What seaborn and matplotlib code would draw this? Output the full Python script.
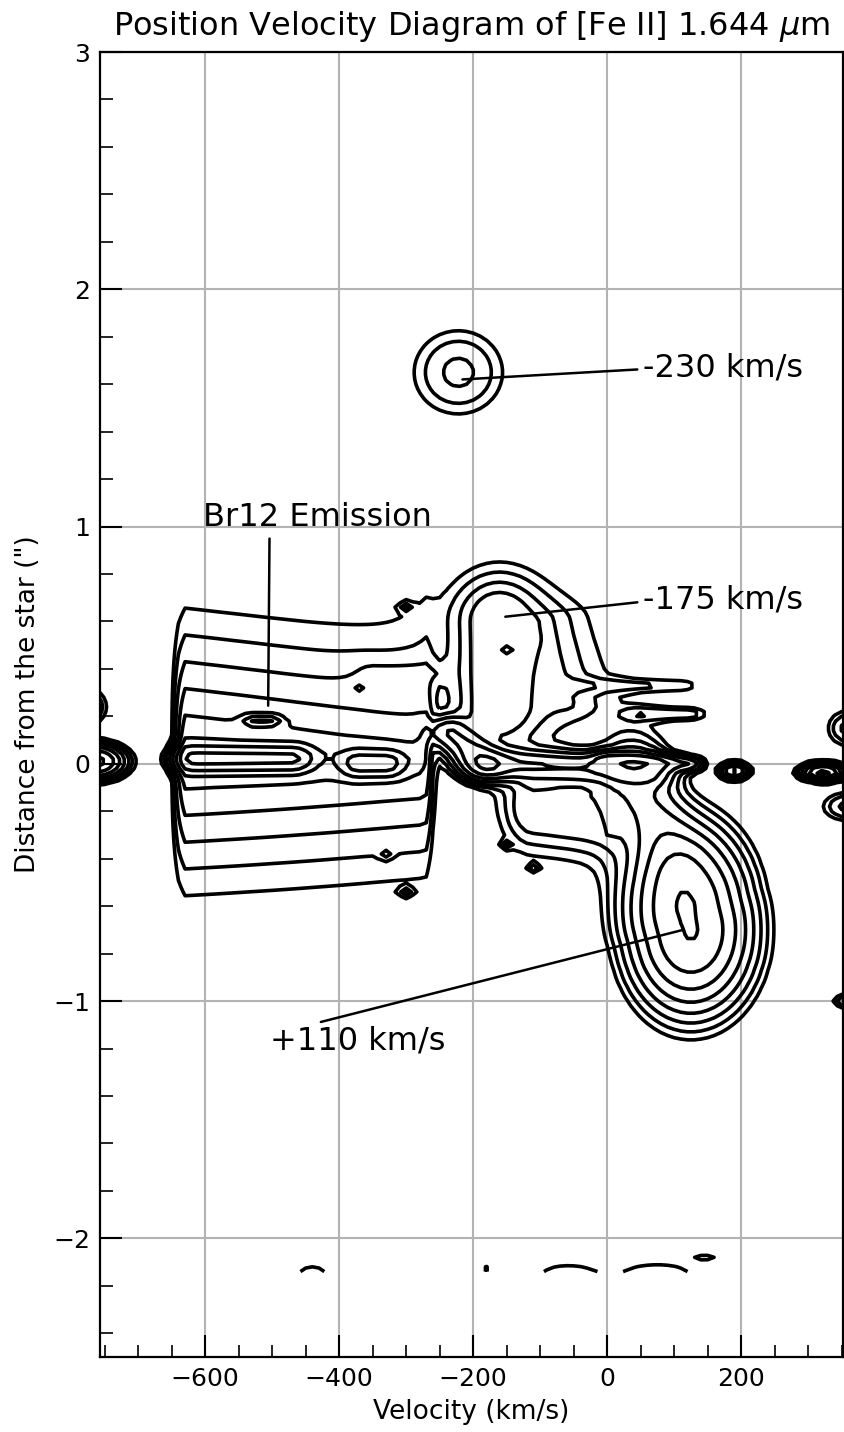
import numpy as np
import pandas as pd
import matplotlib
matplotlib.use("Agg")
import matplotlib.pyplot as plt
from matplotlib.ticker import MultipleLocator
import seaborn as sns

# ---------------- data: emission components ----------------
# each component is a ridge from (v1, y1) to (v2, y2) [km/s, arcsec], with a flat
# plateau of (scaled) radius r, widths sv (km/s), sy (arcsec), amplitude amp1 at the
# first end and amp2 at the second end, profile (1 = exponential, 2 = gaussian)
comp_name = ["band", "core1", "core2", "br12", "bridge", "arch", "archR", "base1", "base2",
             "lowlobe", "spikeU", "spikeU2", "ridgeR", "p110", "p110ext",
             "b230", "spot190", "spot322", "edgeR1", "edgeR2", "edgeR3", "edgeL1", "edgeL2",
             "dot1", "dot2", "dot3", "dot4", "dot5", "dot6", "dot7",
             "arcA", "arcB", "arcC", "arcD", "ringE"]
comp_v1 = [-632, -615, -370, -525, -350, -162, -110, -235, -180,
           -110, -40, 50, 0, 118, 40,
           -222, 190, 322, 360, 360, 360, -765, -770,
           -300, -370, -330, -300, -150, -150, -110,
           -440, -183, -60, 75, 146]
comp_y1 = [0.05, 0.02, 0.00, 0.18, 0.38, 0.25, 0.60, 0.13, 0.00,
           -0.18, 0.33, 0.21, 0.02, -0.62, -0.05,
           1.65, -0.03, -0.035, 0.15, -0.18, -1.0, 0.01, 0.24,
           0.66, 0.32, -0.38, -0.54, 0.48, -0.34, -0.44,
           -2.15, -2.13, -2.15, -2.15, -2.08]
comp_v2 = [-272, -470, -330, -505, -260, -162, -60, -180, 60,
           0, 110, 120, 120, 125, 100,
           -222, 190, 322, 360, 360, 360, -765, -770,
           -300, -370, -330, -300, -150, -150, -110,
           -440, -183, -60, 75, 146]
comp_y2 = [0.02, 0.02, 0.00, 0.18, 0.38, 0.60, 0.25, 0.00, -0.03,
           -0.22, 0.33, 0.21, 0.00, -0.70, -0.40,
           1.65, -0.03, -0.035, 0.15, -0.18, -1.0, 0.01, 0.24,
           0.66, 0.32, -0.38, -0.54, 0.48, -0.34, -0.44,
           -2.15, -2.13, -2.15, -2.15, -2.08]
comp_r = [0, 0, 0, 0, 0, 1.1, 0, 0, 0,
          0.8, 0, 0, 0, 0, 0,
          0, 0, 0, 0, 0, 0, 0, 0,
          0, 0, 0, 0, 0, 0, 0,
          0, 0, 0, 0, 0]
comp_sv = [7, 20, 18, 12, 20, 30, 75, 20, 25,
           25, 20, 20, 15, 48, 30,
           45, 12, 18, 20, 25, 15, 25, 15,
           6, 6, 6, 6, 6, 6, 6,
           19, 6, 37, 48, 15]
comp_sy = [0.24, 0.035, 0.035, 0.015, 0.04, 0.09, 0.09, 0.04, 0.04,
           0.10, 0.02, 0.02, 0.02, 0.18, 0.10,
           0.12, 0.02, 0.02, 0.05, 0.04, 0.02, 0.04, 0.05,
           0.012, 0.012, 0.012, 0.012, 0.012, 0.012, 0.012,
           0.03, 0.01, 0.035, 0.04, 0.012]
comp_amp1 = [12.5, 20, 14, 12, 1.5, 4.6, 2.5, 10, 9,
             3.5, 1.3, 2.0, 6, 27.5, 6,
             2.9, 12, 20, 3, 3, 3, 20, 3,
             2, 2, 2, 2, 2, 2, 2,
             1.65, 2.0, 1.6, 1.6, 1.4]
comp_amp2 = [8.0, 20, 14, 12, 1.5, 4.6, 2.5, 10, 9,
             3.5, 1.3, 2.0, 6, 27.5, 6,
             2.9, 12, 20, 3, 3, 3, 20, 3,
             2, 2, 2, 2, 2, 2, 2,
             1.65, 2.0, 1.6, 1.6, 1.4]
comp_shape = [1, 2, 2, 2, 1, 1, 1, 2, 2,
              1, 2, 2, 2, 2, 2,
              2, 2, 2, 2, 2, 2, 2, 2,
              2, 2, 2, 2, 2, 2, 2,
              2, 2, 2, 2, 2]

contour_levels = [1.0, 1.6, 2.56, 4.1, 6.55, 10.5, 16.8, 26.8]

velocity_grid = np.arange(-770, 361, 10)
position_grid = np.arange(-2.14, 3.001, 0.02)

annot_text = ["-230 km/s", "-175 km/s", "+110 km/s", "Br12 Emission"]
annot_xy = [(-216, 1.62), (-152, 0.62), (113, -0.70), (-506, 0.245)]
annot_xytext = [(54, 1.67), (54, 0.69), (-503, -1.17), (-603, 1.04)]

# ---------------- build intensity map ----------------
comps = pd.DataFrame({"name": comp_name, "v1": comp_v1, "y1": comp_y1, "v2": comp_v2,
                      "y2": comp_y2, "r": comp_r, "sv": comp_sv, "sy": comp_sy,
                      "amp1": comp_amp1, "amp2": comp_amp2, "shape": comp_shape})
V, Y = np.meshgrid(velocity_grid, position_grid)
Z = np.zeros_like(V, dtype=float)
for _, c in comps.iterrows():
    ax_, ay = c.v1 / c.sv, c.y1 / c.sy
    bx, by = c.v2 / c.sv, c.y2 / c.sy
    px, py = V / c.sv, Y / c.sy
    dx, dy = bx - ax_, by - ay
    L2 = dx * dx + dy * dy
    if L2 > 0:
        t = np.clip(((px - ax_) * dx + (py - ay) * dy) / L2, 0, 1)
    else:
        t = np.zeros_like(px)
    d = np.hypot(px - (ax_ + t * dx), py - (ay + t * dy))
    d = np.maximum(d - c.r, 0)
    amp = c.amp1 + t * (c.amp2 - c.amp1)
    if c["shape"] == 1:
        Z += amp * np.exp(-d)
    else:
        Z += amp * np.exp(-0.5 * d * d)

# ---------------- plot ----------------
sns.set_theme(style="ticks")
plt.rcParams["font.family"] = ["DejaVu Sans"]
plt.rcParams["mathtext.fontset"] = "dejavusans"
for key in ["text.color", "axes.labelcolor", "xtick.color", "ytick.color", "axes.edgecolor"]:
    plt.rcParams[key] = "black"

fig = plt.figure(figsize=(8.45, 14.32), dpi=100)
ax = fig.add_axes([100 / 845, 75 / 1432, 743 / 845, 1305 / 1432])

ax.contour(V, Y, Z, levels=contour_levels, colors="black", linewidths=2.6, zorder=2)

ax.set_xlim(-757, 352)
ax.set_ylim(-2.5, 3)
ax.set_xticks([-600, -400, -200, 0, 200])
ax.xaxis.set_minor_locator(MultipleLocator(50))
ax.yaxis.set_major_locator(MultipleLocator(1))
ax.yaxis.set_minor_locator(MultipleLocator(0.2))
ax.tick_params(which="both", direction="in", top=False, right=False, colors="black")
ax.tick_params(which="major", length=16, width=1.5, labelsize=18, pad=7)
ax.tick_params(which="minor", length=9, width=1.2)
ax.grid(True, which="major", color="#b3b3b3", linewidth=1.5)
for s in ax.spines.values():
    s.set_linewidth(1.6)
    s.set_color("black")

ax.set_xlabel("Velocity (km/s)", fontsize=19, labelpad=6)
ax.set_ylabel('Distance from the star (")', fontsize=19, labelpad=9)
ax.set_title(r"Position Velocity Diagram of [Fe II] 1.644 $\mu$m", fontsize=23, pad=12)

relpos = [(0.0, 0.45), (0.0, 0.45), (0.2, 1.0), (0.29, 0.0)]
for txt, xy, xyt, rp in zip(annot_text, annot_xy, annot_xytext, relpos):
    ax.annotate(txt, xy=xy, xytext=xyt, ha="left", va="center", fontsize=23,
                arrowprops=dict(arrowstyle="-", color="black", lw=1.8, relpos=rp,
                                shrinkA=2, shrinkB=0))

fig.savefig("out.png", dpi=100)
